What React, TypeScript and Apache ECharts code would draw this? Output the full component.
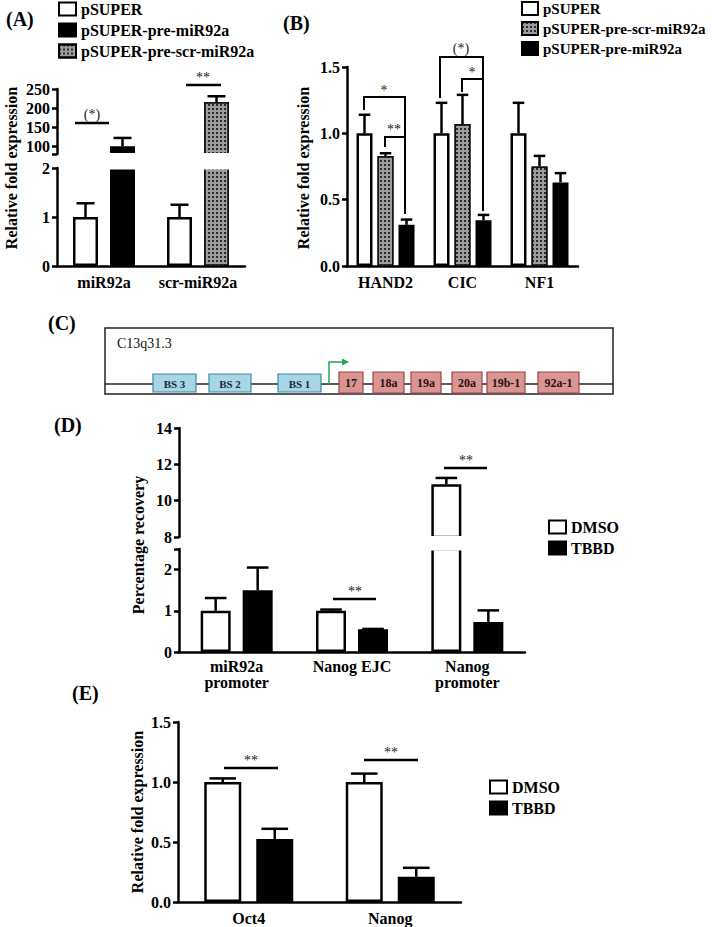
import React, { useEffect, useRef } from 'react';
import * as echarts from 'echarts';

const FONT = '"Liberation Serif", "Times New Roman", Times, serif';
const W = 712;
const H = 927;

// ---------------- DATA ----------------
// Panel A
const catsA = ['miR92a', 'scr-miR92a'];
const legendA = ['pSUPER', 'pSUPER-pre-miR92a', 'pSUPER-pre-scr-miR92a'];
const aPsuper = [1.0, 1.0];
const aPsuperErr = [0.28, 0.25];
const aPreMiR = [100, null];
const aPreMiRErr = [22, null];
const aPreScr = [null, 216];
const aPreScrErr = [null, 15];
const aLowerMax = 2;
const aUpperMin = 80;
const aUpperMax = 250;
const aUpperLabels = [100, 150, 200, 250];

// Panel B
const catsB = ['HAND2', 'CIC', 'NF1'];
const legendB = ['pSUPER', 'pSUPER-pre-scr-miR92a', 'pSUPER-pre-miR92a'];
const bPsuper = [1.0, 1.0, 1.0];
const bPsuperErr = [0.14, 0.23, 0.23];
const bPreScr = [0.83, 1.07, 0.75];
const bPreScrErr = [0.02, 0.22, 0.08];
const bPreMiR = [0.31, 0.345, 0.63];
const bPreMiRErr = [0.04, 0.04, 0.07];

// Panel C
const cRegion = 'C13q31.3';
const bindingSites = ['BS 3', 'BS 2', 'BS 1'];
const clusterMiRs = ['17', '18a', '19a', '20a', '19b-1', '92a-1'];

// Panel D
const catsD = ['miR92a\npromoter', 'Nanog EJC', 'Nanog\npromoter'];
const legendDE = ['DMSO', 'TBBD'];
const dDmso = [1.0, 1.0, 10.9];
const dDmsoErr = [0.31, 0.03, 0.35];
const dTbbd = [1.5, 0.55, 0.73];
const dTbbdErr = [0.55, 0.01, 0.28];
const dLowerMax = 2.5;
const dLowerLabels = [0, 1, 2];
const dUpperMin = 8;
const dUpperMax = 14;

// Panel E
const catsE = ['Oct4', 'Nanog'];
const eDmso = [1.0, 1.0];
const eDmsoErr = [0.03, 0.07];
const eTbbd = [0.525, 0.21];
const eTbbdErr = [0.085, 0.075];

// ---------------- LAYOUT (pixels) ----------------
const gridsPx = [
  { left: 57, top: 89, width: 188, height: 65 }, // 0 A upper
  { left: 57, top: 168, width: 188, height: 98 }, // 1 A lower
  { left: 347, top: 67, width: 231, height: 199 }, // 2 B
  { left: 179, top: 428, width: 346, height: 109 }, // 3 D upper
  { left: 179, top: 549, width: 346, height: 103 }, // 4 D lower
  { left: 178, top: 722, width: 283, height: 180 }, // 5 E
];
const barA = { w: 25, gap: 12 };
const barB = { w: 16, gap: 5 };
const barD = { w: 30, gap: 12 };
const barE = { w: 37, gap: 15 };

const cBox = { x: 105, y: 328, w: 508, h: 66 };
const cLineY = 384;
const bsSpans = [[153, 196], [209, 251], [278, 321]];
const mirSpans = [[339, 363], [373, 404], [411, 441], [452, 482], [487, 525], [538, 579]];

// ---------------- STYLES ----------------
const whiteStyle = { color: '#fff', borderColor: '#000', borderWidth: 2.5 };
const blackStyle = { color: '#000', borderColor: '#000', borderWidth: 2.5 };
const hatchStyle = {
  color: '#9c9c9c',
  borderColor: '#111',
  borderWidth: 1.5,
  decal: {
    symbol: 'rect',
    symbolSize: 1,
    dashArrayX: [1.2, 1.2],
    dashArrayY: [1.2, 1.2],
    rotation: 0,
    color: '#2a2a2a',
  },
};

const labFont = { fontFamily: FONT, fontWeight: 'bold' as const, fontSize: 16, color: '#000' };
const axLine = { show: true, onZero: false, lineStyle: { color: '#000', width: 2.5 } };

function catAxis(gi: number, data: string[], show = true, margin = 8) {
  return {
    type: 'category',
    gridIndex: gi,
    data,
    show,
    axisLine: axLine,
    axisTick: { show: false },
    axisLabel: { ...labFont, margin, interval: 0, lineHeight: 16 },
    splitLine: { show: false },
  };
}

function valAxis(gi: number, min: number, max: number, o: any = {}) {
  const axisLabel: any = { ...labFont, margin: 7 };
  if (o.fmt) axisLabel.formatter = o.fmt;
  if (o.labels) axisLabel.customValues = o.labels;
  const axisTick: any = { show: true, length: 5, lineStyle: { color: '#000', width: 2.5 } };
  if (o.ticks) axisTick.customValues = o.ticks;
  const ax: any = {
    type: 'value',
    gridIndex: gi,
    min,
    max,
    axisLine: axLine,
    axisTick,
    axisLabel,
    splitLine: { show: false },
  };
  if (o.interval) ax.interval = o.interval;
  return ax;
}

const toData = (arr: (number | null)[]) => arr.map((v) => (v == null ? '-' : v));
const above = (arr: (number | null)[], lim: number) => arr.map((v) => (v != null && v > lim ? v : '-'));

function bar(name: string, data: any[], gi: number, style: any, b: { w: number; gap: number }, stack?: string) {
  return {
    type: 'bar',
    name,
    xAxisIndex: gi,
    yAxisIndex: gi,
    data,
    stack,
    itemStyle: style,
    barWidth: b.w,
    barGap: `${(b.gap / b.w) * 100}%`,
    clip: true,
    silent: true,
    emphasis: { disabled: true },
    z: 2,
  };
}

function errBars(
  vals: (number | null)[],
  errs: (number | null)[],
  gi: number,
  slot: number,
  nSlots: number,
  b: { w: number; gap: number },
  keep: (v: number) => boolean,
) {
  const data: number[][] = [];
  vals.forEach((v, i) => {
    if (v != null && errs[i] != null && keep(v)) data.push([i, v, v + (errs[i] as number)]);
  });
  return {
    type: 'custom',
    xAxisIndex: gi,
    yAxisIndex: gi,
    silent: true,
    z: 5,
    encode: { x: 0, y: [1, 2] },
    data,
    renderItem: (_p: any, api: any) => {
      const base = api.coord([api.value(0), api.value(1)]);
      const top = api.coord([api.value(0), api.value(2)]);
      const off = (slot - (nSlots - 1) / 2) * (b.w + b.gap);
      const x = base[0] + off;
      const cap = b.w * 0.36;
      return {
        type: 'group',
        children: [
          { type: 'line', shape: { x1: x, y1: base[1], x2: x, y2: top[1] }, style: { stroke: '#000', lineWidth: 2.5 } },
          { type: 'line', shape: { x1: x - cap, y1: top[1], x2: x + cap, y2: top[1] }, style: { stroke: '#000', lineWidth: 2.5 } },
        ],
      };
    },
  };
}

// ---------------- GRAPHIC HELPERS ----------------
function txt(text: string, x: number, y: number, o: any = {}) {
  return {
    type: 'text',
    x,
    y,
    rotation: o.rotation || 0,
    silent: true,
    z: 60,
    style: {
      text,
      fill: o.fill || '#000',
      fontFamily: FONT,
      fontSize: o.size || 16,
      fontWeight: o.weight || 'bold',
      align: o.align || 'center',
      verticalAlign: o.valign || 'middle',
    },
  };
}
function ln(x1: number, y1: number, x2: number, y2: number, w = 2.5, color = '#000') {
  return { type: 'line', silent: true, z: 60, shape: { x1, y1, x2, y2 }, style: { stroke: color, lineWidth: w } };
}
function pl(points: number[][], w = 2, color = '#000') {
  return { type: 'polyline', silent: true, z: 60, shape: { points }, style: { stroke: color, lineWidth: w, fill: 'none' } };
}
function box(x: number, y: number, w: number, h: number, fill: string, stroke: string, lw = 1.2, z = 20) {
  return { type: 'rect', silent: true, z, shape: { x, y, width: w, height: h }, style: { fill, stroke, lineWidth: lw } };
}

function buildOption() {
  const legendCommon = {
    orient: 'vertical',
    icon: 'rect',
    itemWidth: 17,
    itemHeight: 13,
    itemGap: 5,
    selectedMode: false,
    padding: 0,
    textStyle: { fontFamily: FONT, fontWeight: 'bold', fontSize: 16, color: '#000' },
    itemStyle: { borderColor: '#000', borderWidth: 2 },
  };

  const series: any[] = [
    // A upper
    bar('pSUPER', above(aPsuper, aLowerMax), 0, whiteStyle, barA),
    bar('pSUPER-pre-miR92a', above(aPreMiR, aLowerMax), 0, blackStyle, barA, 'aUp'),
    bar('pSUPER-pre-scr-miR92a', above(aPreScr, aLowerMax), 0, hatchStyle, barA, 'aUp'),
    errBars(aPreMiR, aPreMiRErr, 0, 1, 2, barA, (v) => v > aLowerMax),
    errBars(aPreScr, aPreScrErr, 0, 1, 2, barA, (v) => v > aLowerMax),
    // A lower
    bar('pSUPER', toData(aPsuper), 1, whiteStyle, barA),
    bar('pSUPER-pre-miR92a', toData(aPreMiR), 1, blackStyle, barA, 'aLo'),
    bar('pSUPER-pre-scr-miR92a', toData(aPreScr), 1, hatchStyle, barA, 'aLo'),
    errBars(aPsuper, aPsuperErr, 1, 0, 2, barA, (v) => v <= aLowerMax),
    // B
    bar('pSUPER', toData(bPsuper), 2, whiteStyle, barB),
    bar('pSUPER-pre-scr-miR92a', toData(bPreScr), 2, hatchStyle, barB),
    bar('pSUPER-pre-miR92a', toData(bPreMiR), 2, blackStyle, barB),
    errBars(bPsuper, bPsuperErr, 2, 0, 3, barB, () => true),
    errBars(bPreScr, bPreScrErr, 2, 1, 3, barB, () => true),
    errBars(bPreMiR, bPreMiRErr, 2, 2, 3, barB, () => true),
    // D upper
    bar('DMSO', above(dDmso, dLowerMax), 3, whiteStyle, barD),
    bar('TBBD', above(dTbbd, dLowerMax), 3, blackStyle, barD),
    errBars(dDmso, dDmsoErr, 3, 0, 2, barD, (v) => v > dLowerMax),
    errBars(dTbbd, dTbbdErr, 3, 1, 2, barD, (v) => v > dLowerMax),
    // D lower
    bar('DMSO', toData(dDmso), 4, whiteStyle, barD),
    bar('TBBD', toData(dTbbd), 4, blackStyle, barD),
    errBars(dDmso, dDmsoErr, 4, 0, 2, barD, (v) => v <= dLowerMax),
    errBars(dTbbd, dTbbdErr, 4, 1, 2, barD, (v) => v <= dLowerMax),
    // E
    bar('DMSO', toData(eDmso), 5, whiteStyle, barE),
    bar('TBBD', toData(eTbbd), 5, blackStyle, barE),
    errBars(eDmso, eDmsoErr, 5, 0, 2, barE, () => true),
    errBars(eTbbd, eTbbdErr, 5, 1, 2, barE, () => true),
  ];

  const fmt1 = (v: number) => v.toFixed(1);

  const graphic: any[] = [];
  // panel letters
  graphic.push(txt('(A)', 6, 19, { size: 20, align: 'left' }));
  graphic.push(txt('(B)', 283, 23, { size: 20, align: 'left' }));
  graphic.push(txt('(C)', 48, 323, { size: 20, align: 'left' }));
  graphic.push(txt('(D)', 54, 425, { size: 20, align: 'left' }));
  graphic.push(txt('(E)', 72, 693, { size: 20, align: 'left' }));
  // y-axis titles
  const rot = Math.PI / 2;
  graphic.push(txt('Relative fold expression', 11, 168, { rotation: rot }));
  graphic.push(txt('Relative fold expression', 303, 168, { rotation: rot }));
  graphic.push(txt('Percentage recovery', 138, 545, { rotation: rot }));
  graphic.push(txt('Relative fold expression', 137, 812, { rotation: rot }));
  // axis-break covers
  graphic.push({ type: 'rect', silent: true, z: 40, shape: { x: 59.5, y: 153, width: 190, height: 16.5 }, style: { fill: '#fff' } });
  graphic.push({ type: 'rect', silent: true, z: 40, shape: { x: 181.5, y: 536, width: 346, height: 14.5 }, style: { fill: '#fff' } });
  // significance marks
  const sig = { size: 14, weight: 'normal', fill: '#222' };
  graphic.push(ln(75, 123, 109, 123), txt('(*)', 92, 114, sig));
  graphic.push(ln(186, 85, 221, 85), txt('**', 203, 77, sig));
  graphic.push(pl([[364, 110], [364, 97], [405, 97], [405, 214]]), txt('*', 384, 90, sig));
  graphic.push(pl([[385, 147], [385, 137], [405, 137]]), txt('**', 394, 129, sig));
  graphic.push(pl([[440, 98], [440, 57], [483, 57], [483, 211]]), txt('(*)', 461, 48, sig));
  graphic.push(pl([[462, 92], [462, 79], [483, 79]]), txt('*', 472, 72, sig));
  graphic.push(ln(333, 599, 376, 599), txt('**', 355, 591, sig));
  graphic.push(ln(444, 468, 487, 468), txt('**', 466, 460, sig));
  graphic.push(ln(224, 768, 278, 768), txt('**', 251, 760, sig));
  graphic.push(ln(364, 760, 418, 760), txt('**', 391, 752, sig));

  // Panel C diagram
  graphic.push(box(cBox.x, cBox.y, cBox.w, cBox.h, '#fff', '#222', 1.5, 10));
  graphic.push(ln(cBox.x, cLineY, cBox.x + cBox.w, cLineY, 1.3, '#222'));
  graphic.push(txt(cRegion, cBox.x + 12, 343, { size: 14, weight: 'normal', align: 'left', fill: '#111' }));
  bindingSites.forEach((t, i) => {
    const [x0, x1] = bsSpans[i];
    graphic.push(box(x0, 374, x1 - x0, 18, '#a9d6e5', '#3d8aa3', 1.2, 70));
    graphic.push({ ...txt(t, (x0 + x1) / 2, 383.5, { size: 11, fill: '#1a2a35' }), z: 71 });
  });
  clusterMiRs.forEach((t, i) => {
    const [x0, x1] = mirSpans[i];
    graphic.push(box(x0, 372, x1 - x0, 21, '#d99593', '#a3424a', 1.2, 70));
    graphic.push({ ...txt(t, (x0 + x1) / 2, 383, { size: 12, fill: '#2a1010' }), z: 71 });
  });
  graphic.push(pl([[329, cLineY], [329, 362], [343, 362]], 1.5, '#1fa855'));
  graphic.push({ type: 'polygon', silent: true, z: 60, shape: { points: [[349, 362], [342, 358.5], [342, 365.5]] }, style: { fill: '#1fa855' } });

  return {
    animation: false,
    backgroundColor: '#fff',
    grid: gridsPx.map((g) => ({ ...g, containLabel: false, outerBoundsMode: 'none' })),
    xAxis: [
      catAxis(0, catsA, false),
      catAxis(1, catsA),
      catAxis(2, catsB),
      catAxis(3, catsD, false),
      catAxis(4, catsD, true, 6),
      catAxis(5, catsE),
    ],
    yAxis: [
      valAxis(0, aUpperMin, aUpperMax, { labels: aUpperLabels, ticks: [aUpperMin, ...aUpperLabels] }),
      valAxis(1, 0, aLowerMax, { interval: 1 }),
      valAxis(2, 0, 1.5, { interval: 0.5, fmt: fmt1 }),
      valAxis(3, dUpperMin, dUpperMax, { interval: 2 }),
      valAxis(4, 0, dLowerMax, { labels: dLowerLabels, ticks: [...dLowerLabels, dLowerMax] }),
      valAxis(5, 0, 1.5, { interval: 0.5, fmt: fmt1 }),
    ],
    legend: [
      { ...legendCommon, data: legendA, left: 58, top: 1 },
      {
        ...legendCommon,
        data: legendB,
        left: 521,
        top: 1,
        itemWidth: 16,
        textStyle: { ...legendCommon.textStyle, fontSize: 15 },
      },
      { ...legendCommon, data: legendDE, left: 548, top: 519 },
      { ...legendCommon, data: legendDE, left: 489, top: 779 },
    ],
    series,
    graphic: { elements: graphic },
  };
}

export default function App() {
  const ref = useRef<HTMLDivElement>(null);
  useEffect(() => {
    if (!ref.current) return;
    const chart = echarts.init(ref.current, null, { renderer: 'svg', width: W, height: H });
    chart.setOption(buildOption() as any);
    return () => chart.dispose();
  }, []);
  return (
    <div style={{ position: 'absolute', left: 0, top: 0, width: W, height: H, background: '#fff' }}>
      <div ref={ref} style={{ width: W, height: H }} />
    </div>
  );
}
